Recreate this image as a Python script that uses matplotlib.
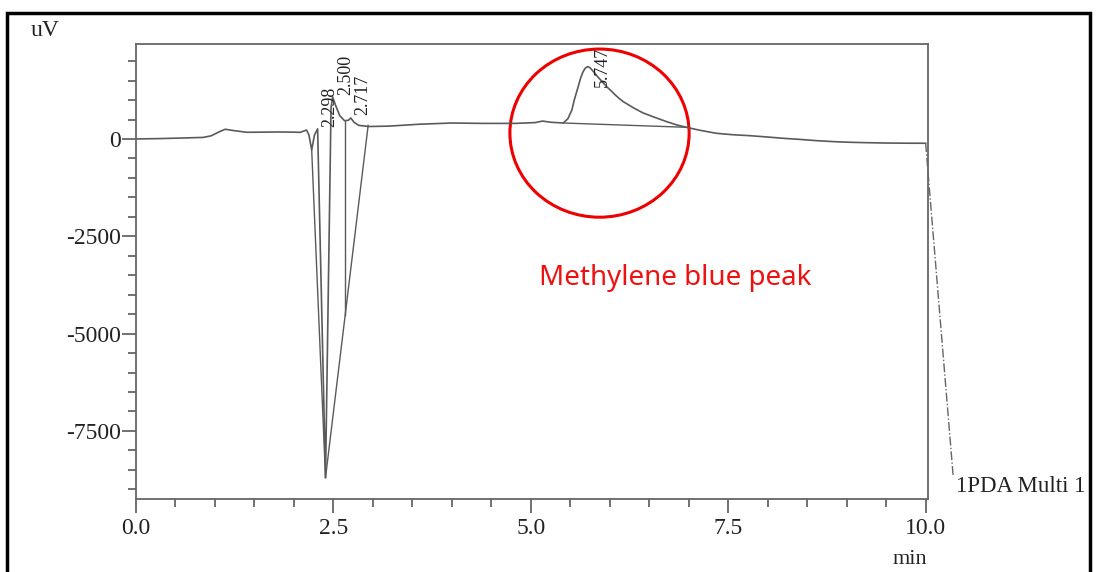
import numpy as np
import matplotlib
matplotlib.use("Agg")
import matplotlib.pyplot as plt
from matplotlib.patches import Ellipse, Rectangle
from matplotlib.ticker import MultipleLocator

# chromatogram trace (time in min, signal in uV)
time_min = [0.0, 0.3, 0.6, 0.85, 0.95, 1.05, 1.13, 1.22, 1.4, 1.6, 1.82, 2.0,
            2.08, 2.12, 2.16, 2.19, 2.225, 2.26, 2.30, 2.40, 2.47, 2.49, 2.53,
            2.58, 2.64, 2.69, 2.72, 2.76, 2.82, 2.95, 3.2, 3.6, 4.0, 4.4, 4.8,
            5.05, 5.15, 5.25, 5.41, 5.47, 5.52, 5.55, 5.6, 5.63, 5.66, 5.69,
            5.72, 5.75, 5.79, 5.85, 5.91, 5.96, 6.02, 6.07, 6.12, 6.17, 6.3,
            6.42, 6.55, 6.72, 6.85, 6.97, 7.15, 7.35, 7.55, 7.77, 8.0, 8.19,
            8.4, 8.62, 8.85, 9.04, 9.25, 9.46, 9.7, 10.0]
signal_uv = [0, 10, 25, 40, 80, 180, 250, 220, 172, 175, 180, 175,
             170, 200, 230, 100, -280, 100, 260, -8700, 800, 1080, 850,
             600, 470, 480, 540, 430, 350, 320, 330, 380, 410, 400, 400,
             420, 460, 430, 410, 520, 745, 1000, 1345, 1560, 1720, 1820,
             1860, 1830, 1740, 1590, 1460, 1345, 1230, 1130, 1040, 960, 800,
             670, 570, 445, 360, 300, 220, 146, 110, 85, 50, 18,
             -10, -44, -70, -85, -95, -103, -108, -110]

# peak labels
peak_times = [2.298, 2.500, 2.717, 5.747]
peak_labels = ["2.298", "2.500", "2.717", "5.747"]
label_base_uv = [300, 1130, 620, 1340]

# integration baselines drawn by the software
neg_start = (2.225, -280)
neg_tip = (2.40, -8700)
neg_end = (2.94, 350)
drop_time = 2.65
drop_top_uv = 460
mb_base_t = [5.41, 6.97]
mb_base_uv = [410, 300]

# leader line to the channel name
leader_t = [10.0, 10.35]
leader_uv = [-110, -8690]
channel_name = "1PDA Multi 1"

fig = plt.figure(figsize=(10.97, 5.72), dpi=100)
ax = fig.add_axes([136 / 1097, 1 - 499 / 572, (928 - 136) / 1097, (499 - 44) / 572])

trace_col = "#5a5a5a"
text_col = "#222222"
serif = "Liberation Serif"

ax.plot(time_min, signal_uv, color=trace_col, lw=1.2)

# baselines of the negative peak and drop line
ax.plot([neg_start[0], neg_tip[0]], [neg_start[1], neg_tip[1]], color=trace_col, lw=1.0)
ax.plot([neg_tip[0], neg_end[0]], [neg_tip[1], neg_end[1]], color=trace_col, lw=1.0)
drop_bottom = np.interp(drop_time, [neg_tip[0], neg_end[0]], [neg_tip[1], neg_end[1]])
ax.plot([drop_time, drop_time], [drop_top_uv, drop_bottom], color=trace_col, lw=1.0)
ax.plot(mb_base_t, mb_base_uv, color=trace_col, lw=1.0)

for t, lab, yb in zip(peak_times, peak_labels, label_base_uv):
    ax.annotate(lab, (t, yb), xytext=(9, 0), textcoords="offset points",
                rotation=90, ha="center", va="bottom", fontsize=13,
                family=serif, color=text_col)

ax.plot(leader_t, leader_uv, color="#666666", lw=1.0, ls="-.", clip_on=False)
ax.text(leader_t[1] + 0.03, leader_uv[1] - 250, channel_name, ha="left", va="center",
        fontsize=16.5, family=serif, color=text_col, clip_on=False)

# red circle + note
ax.add_patch(Ellipse((5.87, 150), 2.27, 4320, fill=False, ec="#ee0000", lw=2.2, clip_on=False))
ax.text(6.83, -3580, "Methylene blue peak", color="#ee1111", fontsize=20,
        family="Noto Sans", ha="center", va="center")

ax.set_xlim(0, 10.03)
ax.set_ylim(-9250, 2440)
ax.xaxis.set_major_locator(MultipleLocator(2.5))
ax.xaxis.set_minor_locator(MultipleLocator(0.5))
ax.yaxis.set_major_locator(MultipleLocator(2500))
ax.yaxis.set_minor_locator(MultipleLocator(500))
ax.set_xticklabels([], minor=True)
ax.xaxis.set_major_formatter(matplotlib.ticker.FormatStrFormatter("%.1f"))
ax.yaxis.set_major_formatter(matplotlib.ticker.FormatStrFormatter("%d"))

for s in ax.spines.values():
    s.set_color("#666666")
    s.set_linewidth(1.3)
ax.tick_params(which="major", length=10, width=1.3, color="#666666", labelsize=17,
               labelcolor=text_col)
ax.tick_params(which="minor", length=5.5, width=1.3, color="#666666")
ax.tick_params(axis="y", pad=1)
ax.tick_params(axis="x", pad=4)
for lbl in ax.get_xticklabels() + ax.get_yticklabels():
    lbl.set_family(serif)

fig.text(45 / 1097, 1 - 30 / 572, "uV", fontsize=17, family=serif, color=text_col,
         ha="center", va="center")
fig.text(910 / 1097, 1 - 560 / 572, "min", fontsize=16, family=serif, color=text_col,
         ha="center", va="center")

# outer frame of the screenshot
fig.add_artist(Rectangle((7 / 1097, -0.1), (1090 - 7) / 1097, 1.1 - 13 / 572,
                         transform=fig.transFigure, fill=False, ec="black", lw=2.5))

fig.savefig("out.png", dpi=100)
